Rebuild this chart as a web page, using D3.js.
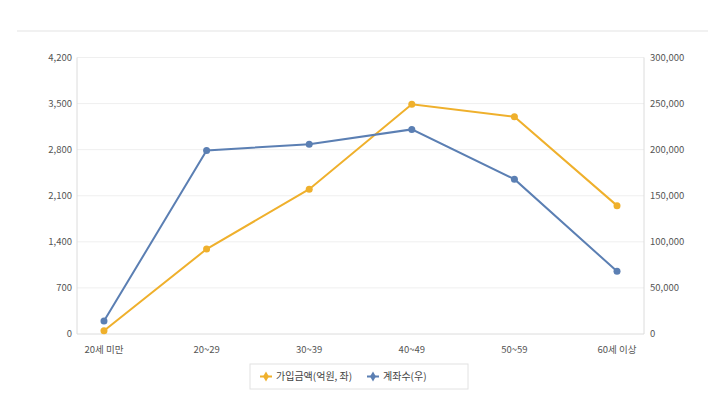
<!DOCTYPE html>
<meta charset="utf-8">
<style>
  body { margin: 0; background: #fff; }
  text { font-family: "Noto Sans CJK KR", "Noto Sans", sans-serif; }
</style>
<body>
<script src="https://d3js.org/d3.v7.min.js"></script>
<script>
  // 연령대별 가입금액 / 계좌수
  const categories = ["20세 미만", "20~29", "30~39", "40~49", "50~59", "60세 이상"];
  const amount = [50, 1290, 2200, 3490, 3300, 1950];            // 가입금액(억원, 좌)
  const accounts = [14000, 199000, 206000, 222000, 168000, 68000]; // 계좌수(우)
  const leftTicks = [0, 700, 1400, 2100, 2800, 3500, 4200];
  const rightTicks = [0, 50000, 100000, 150000, 200000, 250000, 300000];
  const seriesNames = ["가입금액(억원, 좌)", "계좌수(우)"];

  const W = 708, H = 397;
  const plotL = 77, plotR = 644, plotT = 57.5, plotB = 334;
  const orange = "#efb02c", blue = "#5b7fb3";

  const svg = d3.select("body").append("svg")
    .attr("width", W).attr("height", H);

  // 상단 구분선
  svg.append("line")
    .attr("x1", 17).attr("x2", W).attr("y1", 31).attr("y2", 31)
    .attr("stroke", "#f1f1f1").attr("stroke-width", 2);

  const x = d3.scalePoint().domain(categories).range([plotL, plotR]).padding(0.263);
  const yL = d3.scaleLinear().domain([0, 4200]).range([plotB, plotT]);
  const yR = d3.scaleLinear().domain([0, 300000]).range([plotB, plotT]);

  // 그리드
  svg.append("g").selectAll("line").data(leftTicks.slice(1))
    .join("line")
    .attr("x1", plotL).attr("x2", plotR)
    .attr("y1", d => yL(d)).attr("y2", d => yL(d))
    .attr("stroke", "#efefef");

  // 축 선
  svg.append("path")
    .attr("d", `M${plotL},${plotT}V${plotB}H${plotR}V${plotT}`)
    .attr("fill", "none").attr("stroke", "#dcdcdc");

  const fmt = d3.format(",");

  svg.append("g").selectAll("text").data(leftTicks)
    .join("text")
    .attr("x", plotL - 5).attr("y", d => yL(d)).attr("dy", "0.35em")
    .attr("text-anchor", "end").attr("font-size", 9.5).attr("fill", "#555")
    .text(d => fmt(d));

  svg.append("g").selectAll("text").data(rightTicks)
    .join("text")
    .attr("x", plotR + 6).attr("y", d => yR(d)).attr("dy", "0.35em")
    .attr("text-anchor", "start").attr("font-size", 9.5).attr("fill", "#555")
    .text(d => fmt(d));

  svg.append("g").selectAll("text").data(categories)
    .join("text")
    .attr("x", d => x(d)).attr("y", plotB + 16)
    .attr("dy", "0.35em")
    .attr("text-anchor", "middle").attr("font-size", 9.5).attr("fill", "#555")
    .text(d => d);

  function drawSeries(values, yScale, color) {
    const line = d3.line().x((d, i) => x(categories[i])).y(d => yScale(d));
    svg.append("path").datum(values)
      .attr("d", line).attr("fill", "none")
      .attr("stroke", color).attr("stroke-width", 2);
    svg.append("g").selectAll("circle").data(values)
      .join("circle")
      .attr("cx", (d, i) => x(categories[i])).attr("cy", d => yScale(d))
      .attr("r", 3.5).attr("fill", color);
  }
  drawSeries(amount, yL, orange);
  drawSeries(accounts, yR, blue);

  // 범례
  const lg = svg.append("g").attr("transform", "translate(250,364)");
  lg.append("rect").attr("width", 218).attr("height", 25)
    .attr("fill", "#fff").attr("stroke", "#e2e2e2");
  const items = [[seriesNames[0], orange, 10], [seriesNames[1], blue, 117]];
  items.forEach(([name, color, ox]) => {
    const g = lg.append("g").attr("transform", `translate(${ox},12.5)`);
    g.append("line").attr("x1", 0).attr("x2", 12).attr("stroke", color).attr("stroke-width", 2);
    g.append("path").attr("d", d3.symbol(d3.symbolDiamond, 30)())
      .attr("transform", "translate(6,0)").attr("fill", color);
    g.append("text").attr("x", 16).attr("dy", "0.35em")
      .attr("font-size", 10).attr("fill", "#444").text(name);
  });
</script>
</body>
